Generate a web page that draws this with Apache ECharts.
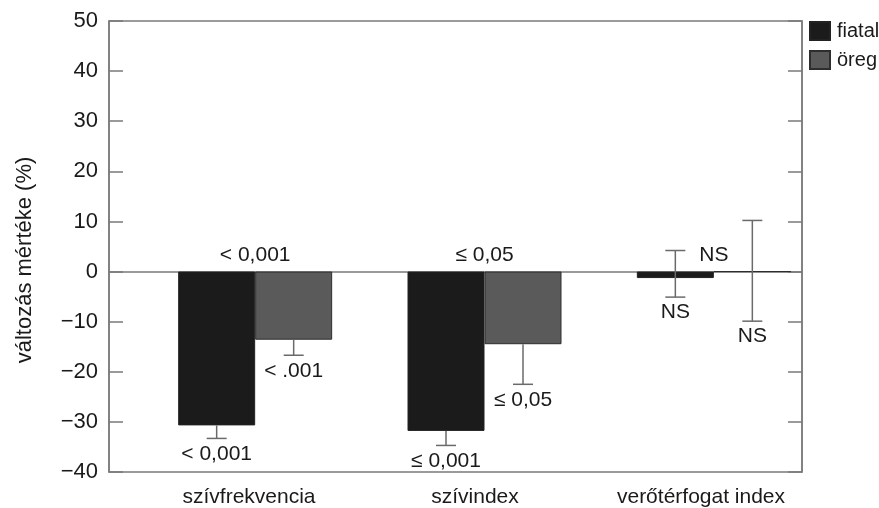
<!DOCTYPE html>
<html>
<head>
<meta charset="utf-8">
<script src="https://cdn.jsdelivr.net/npm/echarts@6/dist/echarts.min.js"></script>
<style>html,body{margin:0;padding:0;background:#fff}#c{width:879px;height:508px}</style>
</head>
<body>
<div id="c"></div>
<script>
// ---- data ----
const categories = ['szívfrekvencia', 'szívindex', 'verőtérfogat index'];
const seriesNames = ['fiatal', 'öreg'];
const fiatal = [-30.7, -31.8, -1.3];
const oreg = [-13.6, -14.5, 0];
const fiatalLow = [-33.3, -34.7, -5.1];
const fiatalHigh = [-30.7, -31.8, 4.2];
const oregLow = [-16.7, -22.5, -9.9];
const oregHigh = [-13.6, -14.5, 10.2];
const topNotes = ['< 0,001', '≤ 0,05', 'NS'];
const fiatalNotes = ['< 0,001', '≤ 0,001', 'NS'];
const oregNotes = ['< .001', '≤ 0,05', 'NS'];
const yMin = -40, yMax = 50, yStep = 10;
const yAxisTitle = 'változás mértéke (%)';

// ---- style ----
const FONT = "'Liberation Sans', Arial, sans-serif";
const TXT = '#1a1a1a';
const AX = '#7a7a7a';
const BAR_W = 77;
const CAP = 20;

const chart = echarts.init(document.getElementById('c'));

function errRender(values, lows, highs, notes, off) {
  return function (params, api) {
    const i = api.value(0);
    const v = values[i], lo = lows[i], hi = highs[i];
    const x = api.coord([i, v])[0] + off;
    const yLo = api.coord([i, lo])[1];
    const yHi = api.coord([i, hi])[1];
    const st = { stroke: '#6a6a6a', lineWidth: 1.5 };
    const ch = [];
    ch.push({ type: 'line', shape: { x1: x, y1: yLo, x2: x, y2: yHi }, style: st });
    if (lo < v) ch.push({ type: 'line', shape: { x1: x - CAP / 2, y1: yLo, x2: x + CAP / 2, y2: yLo }, style: st });
    if (hi > v) ch.push({ type: 'line', shape: { x1: x - CAP / 2, y1: yHi, x2: x + CAP / 2, y2: yHi }, style: st });
    ch.push({ type: 'text', style: { text: notes[i], x: x, y: yLo + 5, align: 'center', verticalAlign: 'top',
      fill: TXT, fontSize: 21, fontFamily: FONT } });
    return { type: 'group', children: ch };
  };
}

const option = {
  animation: false,
  backgroundColor: '#fff',
  textStyle: { fontFamily: FONT },
  grid: [
    { left: 109, top: 21, width: 693, height: 451, show: true, borderColor: AX, borderWidth: 1.5, backgroundColor: 'transparent' },
    { left: 140.5, top: 21, width: 688, height: 451 },
    { left: 136, top: 21, width: 678, height: 451 }
  ],
  legend: {
    data: seriesNames, orient: 'vertical', left: 809, top: 21, padding: 0,
    itemWidth: 20, itemHeight: 18, itemGap: 9, icon: 'rect',
    textStyle: { fontSize: 20, color: TXT, fontFamily: FONT, padding: [0, 0, 0, 2] }
  },
  graphic: [{
    type: 'text', x: 25, y: 260, rotation: Math.PI / 2,
    style: { text: yAxisTitle, align: 'center', verticalAlign: 'middle', fontSize: 22, fill: TXT, fontFamily: FONT }
  }],
  xAxis: [
    { gridIndex: 0, type: 'value', min: 0, max: 1, axisLine: { show: true, onZero: true, lineStyle: { color: AX, width: 1.5 } },
      axisTick: { show: false }, axisLabel: { show: false }, splitLine: { show: false } },
    { gridIndex: 1, type: 'category', data: categories, show: false },
    { gridIndex: 2, type: 'category', data: categories, axisLine: { show: false }, axisTick: { show: false },
      axisLabel: { fontSize: 21, color: TXT, margin: 15, fontFamily: FONT } }
  ],
  yAxis: [
    { gridIndex: 0, type: 'value', min: yMin, max: yMax, interval: yStep, position: 'left',
      axisLine: { show: true, lineStyle: { color: AX, width: 1.5 } },
      axisTick: { show: true, inside: true, length: 14, lineStyle: { color: AX, width: 1.5 } },
      axisLabel: { fontSize: 22, color: TXT, margin: 11, fontFamily: FONT, formatter: v => String(v).replace('-', '\u2212') },
      splitLine: { show: false } },
    { gridIndex: 0, type: 'value', min: yMin, max: yMax, interval: yStep, position: 'right',
      axisLine: { show: true, lineStyle: { color: AX, width: 1.5 } },
      axisTick: { show: true, inside: true, length: 14, lineStyle: { color: AX, width: 1.5 } },
      axisLabel: { show: false }, splitLine: { show: false } },
    { gridIndex: 1, type: 'value', min: yMin, max: yMax, show: false, splitLine: { show: false } },
    { gridIndex: 2, type: 'value', min: yMin, max: yMax, show: false, splitLine: { show: false } }
  ],
  series: [
    { name: seriesNames[0], type: 'bar', xAxisIndex: 1, yAxisIndex: 2, data: fiatal, barWidth: BAR_W, barGap: '0%',
      itemStyle: { color: '#1b1b1b', borderColor: '#222', borderWidth: 1 }, z: 2 },
    { name: seriesNames[1], type: 'bar', xAxisIndex: 1, yAxisIndex: 2, data: oreg, barWidth: BAR_W, barGap: '0%',
      itemStyle: { color: '#5a5a5a', borderColor: '#2e2e2e', borderWidth: 1 }, z: 2 },
    { type: 'custom', xAxisIndex: 1, yAxisIndex: 2, z: 3, silent: true,
      data: fiatal.map((v, i) => [i, v]), renderItem: errRender(fiatal, fiatalLow, fiatalHigh, fiatalNotes, -BAR_W / 2) },
    { type: 'custom', xAxisIndex: 1, yAxisIndex: 2, z: 3, silent: true,
      data: oreg.map((v, i) => [i, v]), renderItem: errRender(oreg, oregLow, oregHigh, oregNotes, BAR_W / 2) },
    { type: 'custom', xAxisIndex: 1, yAxisIndex: 2, z: 3, silent: true,
      data: topNotes.map((t, i) => [i, 0]),
      renderItem: function (params, api) {
        const i = api.value(0);
        const p = api.coord([i, 0]);
        return { type: 'text', style: { text: topNotes[i], x: p[0], y: p[1] - 16, align: 'center', verticalAlign: 'middle',
          fill: TXT, fontSize: 21, fontFamily: FONT } };
      } }
  ]
};
chart.setOption(option);
</script>
</body>
</html>
